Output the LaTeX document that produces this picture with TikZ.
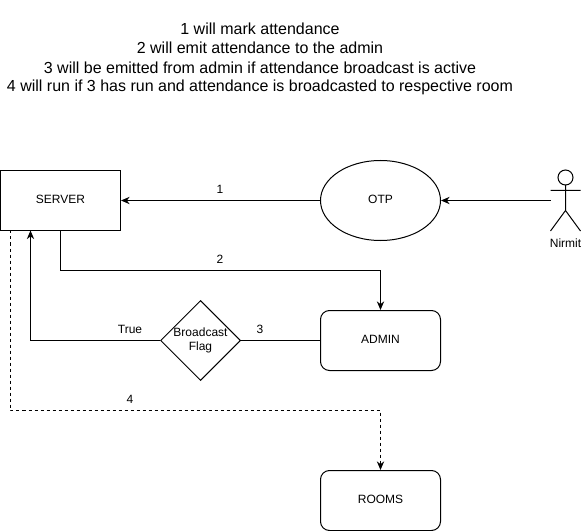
\documentclass[tikz,border=0pt]{standalone}
\usepackage{fontspec}
\setmainfont{Liberation Sans}
\usetikzlibrary{shapes.geometric,arrows.meta}
\newcommand{\upabit}[1]{\raisebox{1.2pt}{#1}}
\tikzset{x=0.75pt,y=-0.75pt,
 box/.style={draw=black,line width=0.75pt,minimum width=90pt,minimum height=45pt,inner sep=0pt,font=\fontsize{9}{11}\selectfont},
 rbox/.style={box,rounded corners=6.75pt},
 lab/.style={font=\fontsize{9}{11}\selectfont,inner sep=0pt},
 head/.style={font=\fontsize{12}{14}\selectfont,inner sep=0pt},
 conn/.style={line width=0.75pt,-{Stealth[length=6.5pt,width=5.5pt]}},
 plain/.style={line width=0.75pt}}
\begin{document}
\begin{tikzpicture}
\useasboundingbox (0,0) rectangle (582,531);
\node[head] (t1) at (260,29) {1 will mark attendance};
\node[head] (t2) at (260,48) {2 will emit attendance to the admin};
\node[head] (t3) at (260,68) {3 will be emitted from admin if attendance broadcast is active};
\node[head] (t4) at (260,87) {4 will run if 3 has run and attendance is broadcasted to respective room};
\node[box] (server) at (60.5,200.5) {\upabit{SERVER}};
\node[draw=black,line width=0.75pt,ellipse,minimum width=90pt,minimum height=60pt,inner sep=0pt,font=\fontsize{9}{11}\selectfont] (otp) at (380.5,200.5) {\upabit{OTP}};
\node[rbox] (admin) at (380.5,340.5) {\upabit{ADMIN}};
\node[rbox] (rooms) at (380.5,500.5) {\upabit{ROOMS}};
\node[draw=black,line width=0.75pt,diamond,minimum width=60pt,minimum height=60pt,inner sep=0pt,align=center,font=\fontsize{9}{11}\selectfont] (flag) at (200.5,340.5) {Broadcast\\Flag};
\coordinate (nh) at (565.5,177.5);
\draw[plain] (nh) circle (7.5);
\coordinate (nb) at (565.5,185);
\coordinate (nw) at (565.5,210.5);
\coordinate (nl) at (550.5,190.5);
\coordinate (nr) at (580.5,190.5);
\coordinate (nfl) at (550.5,231);
\coordinate (nfr) at (580.5,231);
\coordinate (nout) at (550.5,200.5);
\draw[plain] (nb) -- (nw) (nl) -- (nr) (nfl) -- (nw) -- (nfr);
\node[lab] (nirmit) at (565.5,243) {Nirmit};
\draw[conn] (otp.west) -- (server.east);
\draw[conn] (nout) -- (otp.east);
\draw[conn] (server.south) |- (380.5,270.5) -- (admin.north);
\draw[plain] (admin.west) -- (flag.east);
\draw[conn] (flag.west) -- (30.5,340.5) -- (30.5,230.5);
\draw[conn,dashed,dash pattern=on 2.25pt off 2.25pt] (10.5,230.5) -- (10.5,410.5) -- (380.5,410.5) -- (rooms.north);
\node[lab] (l1) at (220,189) {1};
\node[lab] (l2) at (220,259) {2};
\node[lab] (l3) at (260,329) {3};
\node[lab] (l4) at (130,399) {4};
\node[lab] (lt) at (130,329) {True};
\end{tikzpicture}
\end{document}
